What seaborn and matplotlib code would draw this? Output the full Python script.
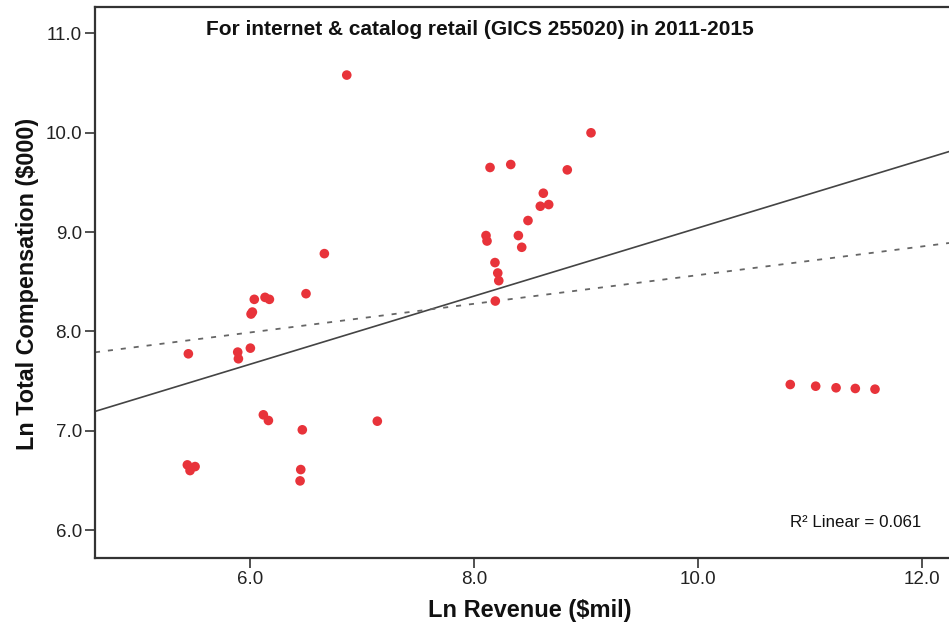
import matplotlib
matplotlib.use("Agg")
import matplotlib.pyplot as plt
import seaborn as sns
import pandas as pd

# ---- data ----
ln_revenue = [5.449, 5.890, 5.896, 6.003, 6.009, 6.021, 6.038, 6.134, 6.173, 6.500,
              5.440, 5.464, 5.509, 6.119, 6.164, 6.467, 6.453, 6.447, 7.137,
              6.664, 6.864,
              8.144, 8.329, 8.834, 8.620, 8.593, 8.668, 8.483, 8.108, 8.117,
              8.397, 8.427, 8.188, 8.213, 8.222, 8.191, 9.046,
              10.826, 11.053, 11.235, 11.407, 11.583]
ln_comp = [7.775, 7.792, 7.725, 7.832, 8.175, 8.195, 8.323, 8.343, 8.323, 8.380,
           6.657, 6.600, 6.640, 7.161, 7.104, 7.010, 6.610, 6.496, 7.097,
           8.783, 10.580,
           9.650, 9.680, 9.626, 9.391, 9.260, 9.277, 9.116, 8.965, 8.910,
           8.965, 8.847, 8.693, 8.588, 8.511, 8.306, 9.999,
           7.466, 7.449, 7.433, 7.426, 7.419]

# fit line (solid) and reference line (dashed), end points at the axis limits
fit_x = [4.615, 12.244]
fit_y = [7.195, 9.810]
ref_x = [4.615, 12.244]
ref_y = [7.790, 8.890]

x_ticks = [6.0, 8.0, 10.0, 12.0]
y_ticks = [6.0, 7.0, 8.0, 9.0, 10.0, 11.0]

title = "For internet & catalog retail (GICS 255020) in 2011-2015"
x_label = "Ln Revenue ($mil)"
y_label = "Ln Total Compensation ($000)"
r2_text = "R\u00b2 Linear = 0.061"

# ---- plotting ----
sns.set_style("white")
plt.rcParams["font.family"] = ["Liberation Sans", "DejaVu Sans"]

fig = plt.figure(figsize=(9.49, 6.26), dpi=100)
ax = fig.add_axes([95 / 949, 1 - 558 / 626, 854 / 949, 551 / 626])

df = pd.DataFrame({"x": ln_revenue, "y": ln_comp})
sns.scatterplot(data=df, x="x", y="y", ax=ax, color="#e8333a", s=48,
                edgecolor="none", linewidth=0, zorder=3)

sns.lineplot(x=fit_x, y=fit_y, ax=ax, color="#444444", linewidth=1.2, zorder=2)
sns.lineplot(x=ref_x, y=ref_y, ax=ax, color="#666666", linewidth=1.3,
             linestyle=(0, (2.8, 4.4)), zorder=2)

ax.set_xlim(4.615, 12.244)
ax.set_ylim(5.72, 11.265)
ax.set_xticks(x_ticks)
ax.set_xticklabels([f"{v:.1f}" for v in x_ticks])
ax.set_yticks(y_ticks)
ax.set_yticklabels([f"{v:.1f}" for v in y_ticks])

for side in ["left", "bottom", "top"]:
    ax.spines[side].set_visible(True)
    ax.spines[side].set_color("#333333")
    ax.spines[side].set_linewidth(1.6)
ax.spines["right"].set_visible(False)

ax.tick_params(axis="both", which="major", direction="out", length=7, width=1.2,
               color="#333333", labelsize=13.5, labelcolor="#222222", pad=2.5,
               left=True, bottom=True)

ax.set_xlabel(x_label, fontsize=17, fontweight="bold", color="#111111")
ax.set_ylabel(y_label, fontsize=16.8, fontweight="bold", color="#111111")
ax.xaxis.set_label_coords(0.509, -0.074)
ax.yaxis.set_label_coords(-0.065, 0.497)

ax.text(0.451, 0.960, title, transform=ax.transAxes, ha="center", va="center",
        fontsize=15, fontweight="bold", color="#111111")
ax.text(0.968, 0.065, r2_text, transform=ax.transAxes, ha="right", va="center",
        fontsize=12.2, color="#111111")

fig.savefig("out.png", dpi=100)
